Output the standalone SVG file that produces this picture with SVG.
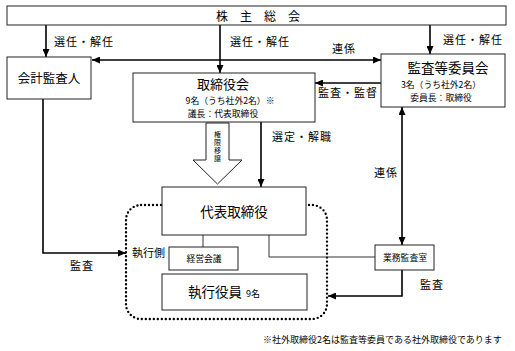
<svg xmlns="http://www.w3.org/2000/svg" width="515" height="351" viewBox="0 0 515 351">
<style>
  text { font-family: "Noto Sans CJK JP", "Noto Sans", sans-serif; fill: #000; }
  .box { fill: #fff; stroke: #222; stroke-width: 1; }
  .c { text-anchor: middle; }
  .lbl { font-size: 11px; letter-spacing: 1px; }
  .sm { font-size: 8.8px; }
  .arr { fill: none; stroke: #000; stroke-width: 1.6; }
  .thin { fill: none; stroke: #333; stroke-width: 1; }
  .dot { fill: none; stroke: #000; stroke-width: 2.4; stroke-dasharray: 0 4; stroke-linecap: round; }
</style>
<defs>
  <marker id="ah" viewBox="0 0 8 7" refX="8" refY="3.5" markerWidth="8" markerHeight="7" markerUnits="userSpaceOnUse" orient="auto-start-reverse">
    <path d="M0,0 L8,3.5 L0,7 z" fill="#000"/>
  </marker>
</defs>
<rect width="515" height="351" fill="#fff"/>

<g id="executive-area">
  <rect class="dot" x="126" y="205" width="201" height="114" rx="15" ry="15"/>
  <text x="132" y="257" font-size="11">執行側</text>
</g>

<g id="connectors">
  <line class="arr" x1="46" y1="25" x2="46" y2="57" marker-end="url(#ah)"/>
  <line class="arr" x1="220" y1="25" x2="220" y2="73" marker-end="url(#ah)"/>
  <line class="arr" x1="430" y1="25" x2="430" y2="54" marker-end="url(#ah)"/>
  <line class="arr" x1="92" y1="60" x2="381" y2="60" marker-start="url(#ah)" marker-end="url(#ah)"/>
  <line class="arr" x1="381" y1="83" x2="315" y2="83" marker-end="url(#ah)"/>
  <line class="arr" x1="402" y1="107" x2="402" y2="245" marker-start="url(#ah)" marker-end="url(#ah)"/>
  <line class="arr" x1="261" y1="122" x2="261" y2="187" marker-end="url(#ah)"/>
  <polyline class="arr" points="43,99 43,253 126,253" marker-end="url(#ah)"/>
  <polyline class="arr" points="402,270 402,296 328,296" marker-end="url(#ah)"/>
  <line class="thin" x1="203" y1="235" x2="203" y2="247"/>
  <polyline class="thin" points="269,235 269,257 375,257"/>
  <path d="M206,123 L229,123 L229,160 L242,160 L217.5,184 L193,160 L206,160 Z" fill="#fff" stroke="#222" stroke-width="1"/>
  <text x="217.5" y="131" font-size="7" writing-mode="tb" letter-spacing="1">権限移譲</text>
  <text class="lbl" x="54" y="46">選任・解任</text>
  <text class="lbl" x="230" y="46">選任・解任</text>
  <text class="lbl" x="443" y="44">選任・解任</text>
  <text class="lbl" x="332" y="53">連係</text>
  <text class="lbl" x="318" y="97">監査・監督</text>
  <text class="lbl" x="374" y="177">連係</text>
  <text class="lbl" x="272" y="141">選定・解職</text>
  <text class="lbl" x="70" y="270">監査</text>
  <text class="lbl" x="420" y="289">監査</text>
</g>

<g id="shareholders">
  <rect class="box" x="7" y="6" width="499" height="19"/>
  <text class="c" x="258" y="20.5" font-size="12">株　主　総　会</text>
</g>

<g id="accounting-auditor">
  <rect class="box" x="7" y="57" width="84" height="42"/>
  <text class="c" x="49" y="83" font-size="12.5">会計監査人</text>
</g>

<g id="board">
  <rect class="box" x="133" y="73" width="182" height="49"/>
  <text class="c" x="223" y="89" font-size="13">取締役会</text>
  <text class="c sm" x="230" y="104">9名（うち社外2名）※</text>
  <text class="c sm" x="223" y="117">議長：代表取締役</text>
</g>

<g id="audit-committee">
  <rect class="box" x="381" y="54" width="124" height="53"/>
  <text class="c" x="448" y="73" font-size="13.5">監査等委員会</text>
  <text class="c sm" x="441" y="88">3名（うち社外2名）</text>
  <text class="c sm" x="441" y="101">委員長：取締役</text>
</g>

<g id="representative">
  <rect class="box" x="162" y="187" width="144" height="48"/>
  <text class="c" x="234" y="217" font-size="13.5">代表取締役</text>
</g>

<g id="management-meeting">
  <rect class="box" x="169" y="247" width="69" height="23"/>
  <text class="c sm" x="204" y="262">経営会議</text>
</g>

<g id="internal-audit">
  <rect class="box" x="375" y="245" width="59" height="25"/>
  <text class="c sm" x="405" y="261">業務監査室</text>
</g>

<g id="executive-officers">
  <rect class="box" x="162" y="274" width="145" height="36"/>
  <text class="c" x="215" y="297" font-size="13.5">執行役員</text>
  <text x="246" y="297" font-size="9">9名</text>
</g>

<text x="263" y="343" font-size="9">※社外取締役2名は監査等委員である社外取締役であります</text>
</svg>
